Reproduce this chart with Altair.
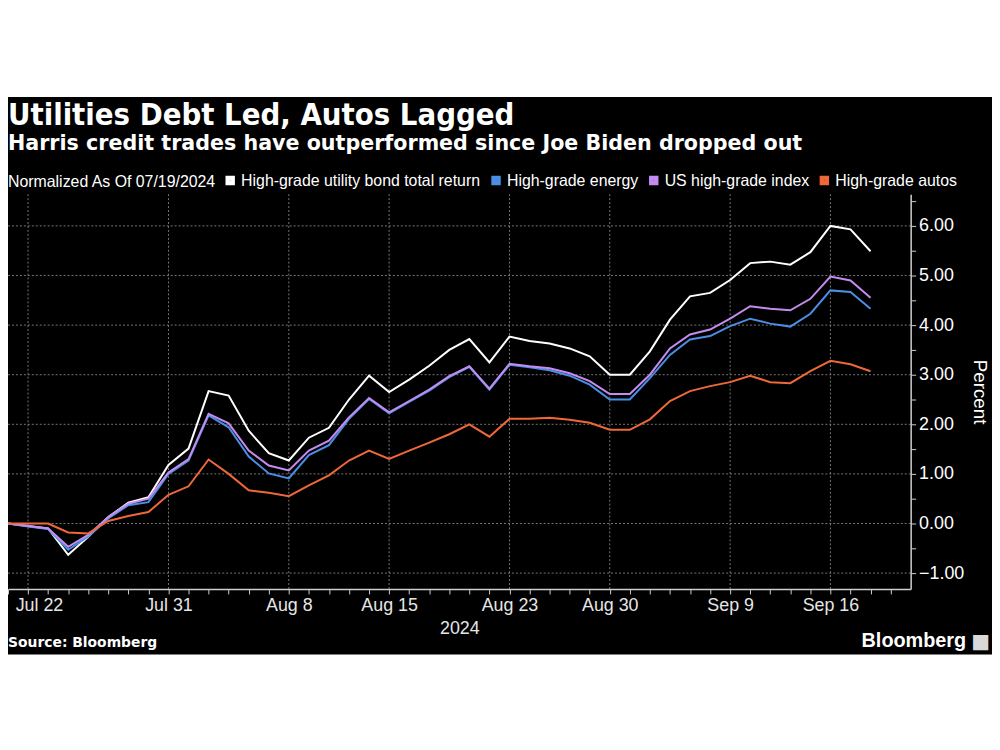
import altair as alt
import pandas as pd

# ---------------- data ----------------
dates = ["Jul 19", "Jul 22", "Jul 23", "Jul 24", "Jul 25", "Jul 26", "Jul 29", "Jul 30", "Jul 31",
         "Aug 1", "Aug 2", "Aug 5", "Aug 6", "Aug 7", "Aug 8", "Aug 9", "Aug 12", "Aug 13", "Aug 14",
         "Aug 15", "Aug 16", "Aug 19", "Aug 20", "Aug 21", "Aug 22", "Aug 23", "Aug 26", "Aug 27",
         "Aug 28", "Aug 29", "Aug 30", "Sep 2", "Sep 3", "Sep 4", "Sep 5", "Sep 6", "Sep 9", "Sep 10",
         "Sep 11", "Sep 12", "Sep 13", "Sep 16", "Sep 17", "Sep 18"]

utility = [0.00, -0.05, -0.10, -0.63, -0.27, 0.13, 0.42, 0.53, 1.18, 1.51, 2.67, 2.58, 1.87, 1.42,
           1.27, 1.73, 1.93, 2.50, 2.98, 2.65, 2.90, 3.18, 3.50, 3.72, 3.25, 3.77, 3.68, 3.63, 3.53,
           3.37, 3.00, 3.00, 3.47, 4.11, 4.58, 4.65, 4.91, 5.25, 5.28, 5.22, 5.47, 6.00, 5.93, 5.49]

energy = [0.00, -0.06, -0.11, -0.53, -0.26, 0.10, 0.37, 0.43, 1.00, 1.27, 2.18, 1.94, 1.35, 1.01,
          0.91, 1.38, 1.58, 2.11, 2.51, 2.22, 2.45, 2.68, 2.95, 3.16, 2.70, 3.20, 3.15, 3.09, 2.98,
          2.80, 2.50, 2.50, 2.93, 3.40, 3.71, 3.78, 3.98, 4.13, 4.03, 3.97, 4.23, 4.70, 4.67, 4.33]

us_index = [0.00, -0.05, -0.10, -0.47, -0.23, 0.13, 0.40, 0.50, 1.03, 1.30, 2.21, 2.02, 1.47, 1.17,
            1.07, 1.47, 1.67, 2.14, 2.53, 2.24, 2.47, 2.70, 2.97, 3.17, 2.72, 3.22, 3.17, 3.13, 3.03,
            2.87, 2.61, 2.61, 3.00, 3.53, 3.81, 3.91, 4.13, 4.38, 4.33, 4.30, 4.53, 4.98, 4.90, 4.55]

autos = [0.00, 0.00, 0.00, -0.18, -0.20, 0.05, 0.15, 0.23, 0.58, 0.75, 1.29, 1.00, 0.67, 0.62,
         0.55, 0.77, 0.97, 1.27, 1.47, 1.30, 1.47, 1.63, 1.80, 2.00, 1.75, 2.11, 2.11, 2.13, 2.09,
         2.03, 1.89, 1.89, 2.10, 2.47, 2.67, 2.77, 2.85, 2.98, 2.85, 2.83, 3.07, 3.28, 3.21, 3.07]

series_names = ["High-grade utility bond total return", "High-grade energy",
                "US high-grade index", "High-grade autos"]
series_colors = ["#ffffff", "#4a8ee6", "#c48cf0", "#f0683a"]

tick_dates = ["Jul 22", "Jul 31", "Aug 8", "Aug 15", "Aug 23", "Aug 30", "Sep 9", "Sep 16"]
y_ticks = [-1, 0, 1, 2, 3, 4, 5, 6]
y_minor = [-1, -0.5, 0, 0.5, 1, 1.5, 2, 2.5, 3, 3.5, 4, 4.5, 5, 5.5, 6, 6.5]

title_text = "Utilities Debt Led, Autos Lagged"
subtitle_text = "Harris credit trades have outperformed since Joe Biden dropped out"
legend_title = "Normalized As Of 07/19/2024"
source_text = "Source: Bloomberg"
brand_text = "Bloomberg"
brand_icon = "\u25A0"

# ---------------- frames ----------------
rows = []
for name, vals in zip(series_names, [utility, energy, us_index, autos]):
    for i, (d, v) in enumerate(zip(dates, vals)):
        rows.append({"idx": i, "date": d, "series": name, "value": v})
df = pd.DataFrame(rows)

n_slots = len(dates) + 1
label_arr = [d if d in tick_dates else "" for d in dates] + [""]
label_expr = "[" + ",".join("'" + s + "'" for s in label_arr) + "][datum.value]"
first_label_idx = dates.index(tick_dates[0])
grid_x = pd.DataFrame({"idx": [dates.index(d) for d in tick_dates]})
grid_y = pd.DataFrame({"value": y_ticks})

W, H = 910, 398
x_scale = alt.Scale(domain=[0, n_slots], nice=False, zero=False)
y_scale = alt.Scale(domain=[-1.32, 6.64], nice=False, zero=False)

AX_FONT = "Liberation Sans"
TITLE_FONT = "DejaVu Sans Condensed, DejaVu Sans"

x_axis = alt.Axis(values=list(range(n_slots)), labelExpr=label_expr, grid=False,
                  title="2024", titleFont=AX_FONT, titleFontSize=18, titleFontWeight="normal",
                  titleColor="#e6e6e6", titlePadding=5,
                  labelFont=AX_FONT, labelFontSize=18, labelColor="#e6e6e6", labelPadding=3,
                  labelOffset={"condition": {"test": "datum.value === %d" % first_label_idx,
                                             "value": 11}, "value": 0},
                  labelOverlap=False, labelFlush=False,
                  domainColor="#cfcfcf", domainWidth=1.5, tickColor="#cfcfcf", tickSize=5,
                  zindex=2)
y_axis = alt.Axis(orient="right", values=y_minor,
                  labelExpr="datum.value % 1 === 0 ? format(datum.value, '.2f') : ''",
                  grid=False, title="Percent", titleFont=AX_FONT, titleFontSize=19,
                  titleFontWeight="normal", titleColor="#ffffff", titleAngle=90,
                  titlePadding=6,
                  labelFont=AX_FONT, labelFontSize=18, labelColor="#ffffff", labelPadding=3,
                  labelOverlap=False, labelFlush=False,
                  domainColor="#cfcfcf", domainWidth=1.5, tickColor="#cfcfcf", tickSize=5,
                  zindex=2)

bg = alt.Chart(pd.DataFrame({"a": [0]})).mark_rect(color="#000000").encode(
    x=alt.value(0), x2=alt.value(992), y=alt.value(-98), y2=alt.value(464)
)

vgrid = alt.Chart(grid_x).mark_rule(color="#777777", strokeDash=[2, 2], strokeWidth=1).encode(
    x=alt.X("idx:Q", scale=x_scale, axis=x_axis)
)
hgrid = alt.Chart(grid_y).mark_rule(color="#777777", strokeDash=[2, 2], strokeWidth=1).encode(
    y=alt.Y("value:Q", scale=y_scale, axis=y_axis)
)

lines = alt.Chart(df).mark_line(strokeWidth=2).encode(
    x=alt.X("idx:Q", scale=x_scale, axis=x_axis),
    y=alt.Y("value:Q", scale=y_scale, axis=y_axis),
    color=alt.Color("series:N", sort=series_names,
                    scale=alt.Scale(domain=series_names, range=series_colors),
                    legend=alt.Legend(orient="none", legendX=0, legendY=-22, direction="horizontal",
                                      title=legend_title, titleOrient="left",
                                      titleFont=AX_FONT, titleFontSize=16, titleLimit=0,
                                      titleFontWeight="normal", titleColor="#ffffff", titlePadding=6,
                                      labelFont=AX_FONT, labelFontSize=16, labelLimit=0,
                                      labelColor="#ffffff", labelOffset=3, columnPadding=3,
                                      symbolType="square", symbolSize=25, symbolStrokeWidth=4.5,
                                      symbolOpacity=1)),
    detail="series:N",
)

def label(text, x, y, font, size, align="left", color="#ffffff"):
    return alt.Chart(pd.DataFrame({"t": [text]})).mark_text(
        align=align, baseline="alphabetic", font=font, fontWeight="bold", fontSize=size,
        color=color
    ).encode(x=alt.value(x), y=alt.value(y), text="t:N")

title = label(title_text, 0, -70, TITLE_FONT, 31)
subtitle = label(subtitle_text, 0, -45, "DejaVu Sans", 20.8)
source = label(source_text, 0, 457, "DejaVu Sans", 14)
brand = label(brand_text, 966, 457, "Liberation Sans", 20, align="right")
icon = label(brand_icon, 971, 458, "DejaVu Sans", 20, color="#d9d9d9")

chart = alt.layer(bg, vgrid, hgrid, lines, title, subtitle, source, brand, icon).properties(
    width=W, height=H,
    padding={"left": 0, "top": 185, "right": 82, "bottom": 80},
    autosize=alt.AutoSizeParams(type="none"),
    background="#ffffff",
).configure_view(stroke=None)

chart.save("out.html", embed_options={"renderer": "svg", "actions": False})
